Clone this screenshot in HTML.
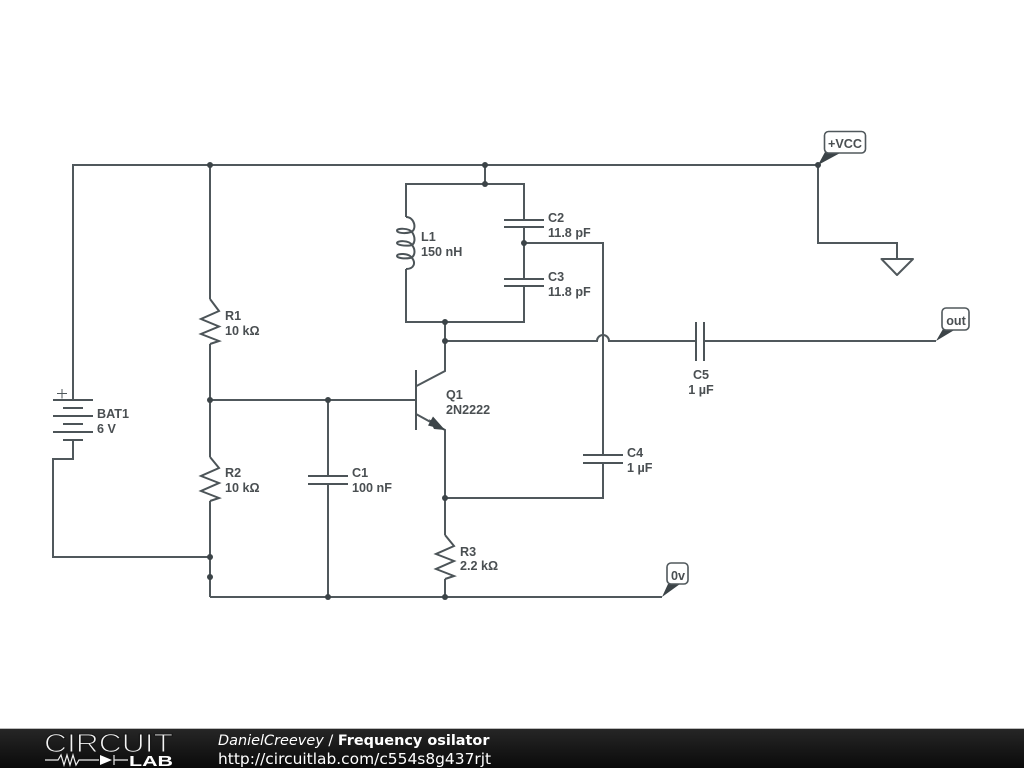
<!DOCTYPE html>
<html>
<head>
<meta charset="utf-8">
<style>
html,body{margin:0;padding:0;background:#fff;width:1024px;height:768px;overflow:hidden}
svg{display:block;position:absolute;left:0;top:0}
.w{fill:none;stroke:#50585c;stroke-width:2}
.p{fill:none;stroke:#4c5458;stroke-width:2}
.n{fill:#3c4448}
.t{font-family:"Liberation Sans",sans-serif;font-size:12.6px;font-weight:bold;fill:#4a4f52}
.f{font-family:"DejaVu Sans",sans-serif;font-size:14.45px;fill:#fff}
</style>
</head>
<body>
<svg width="1024" height="768" viewBox="0 0 1024 768" xmlns="http://www.w3.org/2000/svg">
<rect width="1024" height="768" fill="#fff"/>
<!-- wires -->
<path class="w" d="M73 400V165H818V243H897V259"/>
<path class="w" d="M210 165V299M210 344V457M210 501V597"/>
<path class="w" d="M73 440V459H53V557H210"/>
<path class="w" d="M485 165V184"/>
<path class="w" d="M406 217V184H524V220M524 227V279M524 286V322H406V269"/>
<path class="w" d="M524 243H603V455M603 463V498H445"/>
<path class="w" d="M445 322V371L416.500 386"/>
<path class="w" d="M210 400H416"/>
<path class="w" d="M328 400V476M328 484V597"/>
<path class="w" d="M416 414L445 430V535M445 579V597"/>
<path class="w" d="M210 597H662"/>
<path class="w" d="M445 341H597A6 6 0 0 1 609 341H696M704 341H936"/>
<!-- transistor -->
<path class="p" d="M416 370V430"/>
<path class="n" d="M445 430L429 419L434 429Z M445 430L433 416.500L428 425.500Z"/>
<!-- capacitors -->
<path class="p" d="M504 220H544M504 227H544M504 279H544M504 286H544M583 455H623M583 463H623M308 476H348M308 484H348M696 322V361M704 322V361"/>
<!-- battery -->
<path class="p" d="M53 400H93M63 408H83M53 416H93M63 424H83M53 432H93M63 440H83"/>
<path d="M57 393.500H67M62 389V398.500" fill="none" stroke="#50585c" stroke-width="1"/>
<!-- resistors -->
<path class="p" d="M210 299L219 311L201 319L219 326.500L201 334L219 341L210 344"/>
<path class="p" d="M210 457L219 468L201 476L219 483L201 491L219 498L210 501"/>
<path class="p" d="M445 535L454 546L436 554L454 561L436 569L454 576L445 579"/>
<!-- inductor -->
<path class="p" d="M406 217C415 217 417 230 411 232C405 234 397 233 397 230.500C397 228 409 228 412 232C416 238 415 245 410 245.500C404 246 397 245 397 243C397 240.500 409 240 412 245C416 250 415 257 410 258C404 259 397 258 397 256C397 253 409 253 412 258C416 263 414 269 406 269"/>
<!-- ground -->
<path class="w" d="M881.500 259H913L897 275Z" stroke-linejoin="round" fill="#fff"/>
<!-- nodes -->
<g class="n">
<circle cx="210" cy="165" r="3"/><circle cx="485" cy="165" r="3"/><circle cx="818" cy="165" r="3"/>
<circle cx="485" cy="184" r="3"/><circle cx="524" cy="243" r="3"/><circle cx="445" cy="322" r="3"/>
<circle cx="445" cy="341" r="3"/><circle cx="210" cy="400" r="3"/><circle cx="328" cy="400" r="3"/>
<circle cx="445" cy="498" r="3"/><circle cx="210" cy="557" r="3"/><circle cx="210" cy="577" r="3"/>
<circle cx="328" cy="597" r="3"/><circle cx="445" cy="597" r="3"/>
</g>
<!-- tags -->
<path class="n" d="M818 165L825 152H842Z M936 341L943 329H956Z M662 597L668 584H680Z"/>
<g fill="#fff" stroke="#50585c" stroke-width="1.600">
<rect x="824.500" y="131.500" width="41" height="21.500" rx="4"/>
<rect x="942" y="308" width="27" height="22" rx="4"/>
<rect x="667" y="563" width="21" height="21" rx="4"/>
</g>
<g class="t">
<text x="845" y="148" text-anchor="middle">+VCC</text>
<text x="956" y="325" text-anchor="middle">out</text>
<text x="678" y="580" text-anchor="middle">0v</text>
<text x="225" y="320">R1</text><text x="225" y="335">10 kΩ</text>
<text x="225" y="477">R2</text><text x="225" y="492">10 kΩ</text>
<text x="460" y="556">R3</text><text x="460" y="570">2.2 kΩ</text>
<text x="97" y="418">BAT1</text><text x="97" y="433">6 V</text>
<text x="421" y="241">L1</text><text x="421" y="256">150 nH</text>
<text x="548" y="222">C2</text><text x="548" y="237">11.8 pF</text>
<text x="548" y="281">C3</text><text x="548" y="296">11.8 pF</text>
<text x="352" y="477">C1</text><text x="352" y="492">100 nF</text>
<text x="627" y="457">C4</text><text x="627" y="472">1 µF</text>
<text x="701" y="379" text-anchor="middle">C5</text><text x="701" y="394" text-anchor="middle">1 µF</text>
<text x="446" y="399">Q1</text><text x="446" y="414">2N2222</text>
</g>
<!-- footer -->
<defs><linearGradient id="g" x1="0" y1="0" x2="0" y2="1"><stop offset="0" stop-color="#262626"/><stop offset="1" stop-color="#0a0a0a"/></linearGradient></defs>
<rect x="0" y="729" width="1024" height="39" fill="url(#g)"/>
<rect x="0" y="728" width="1024" height="1" fill="#bbb"/>
<text x="44" y="752" font-family="Liberation Sans,sans-serif" font-size="26" fill="#f4f4f4" stroke="#181818" stroke-width="1.100" style="paint-order:fill stroke" textLength="129" lengthAdjust="spacingAndGlyphs">CIRCUIT</text>
<path d="M45 760H58L61 755L64 765L67 755L70 765L73 755L76 765L79 760H99M114 755V765M114 760H128" fill="none" stroke="#eee" stroke-width="1.200"/>
<path d="M100 755V765L112 760Z" fill="#fff"/>
<text x="129" y="766" font-family="Liberation Sans,sans-serif" font-size="14.500" font-weight="bold" fill="#fff" textLength="44" lengthAdjust="spacingAndGlyphs">LAB</text>
<text class="f" x="218" y="745"><tspan font-style="italic">DanielCreevey</tspan> / <tspan font-weight="bold">Frequency osilator</tspan></text>
<text class="f" x="218" y="764" style="font-size:15.45px">http://circuitlab.com/c554s8g437rjt</text>
</svg>
</body>
</html>
